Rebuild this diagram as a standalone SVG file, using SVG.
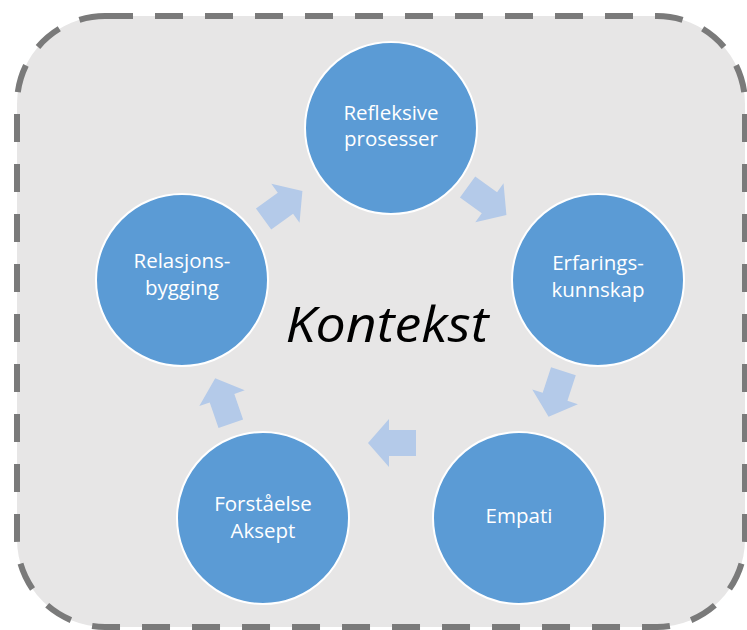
<svg xmlns="http://www.w3.org/2000/svg" width="747" height="630" viewBox="0 0 747 630">
  <defs>
    <style>
      .frame { fill: #E7E6E6; stroke: #7A7A7A; stroke-width: 6; stroke-dasharray: 28 22; }
      .node { fill: #5B9BD5; stroke: #FFFFFF; stroke-width: 2; }
      .label { fill: #FFFFFF; font-family: "Open Sans", "Liberation Sans", sans-serif; font-size: 20.5px; text-anchor: middle; }
      .title { fill: #000000; font-family: "Open Sans", "Liberation Sans", sans-serif; font-style: italic; font-size: 50px; text-anchor: middle; }
      .flow { fill: #B4CAE9; }
    </style>
    <!-- block arrow pointing along +x, centred on the origin -->
    <polygon id="blockArrow" points="-24,-13 3,-13 3,-24 24,0 3,24 3,13 -24,13"/>
  </defs>

  <!-- dashed context frame -->
  <rect class="frame" x="17" y="16" width="728" height="611" rx="88" ry="88"/>

  <text class="title" x="387" y="342" textLength="203" lengthAdjust="spacingAndGlyphs">Kontekst</text>

  <!-- connectors between the cycle steps -->
  <g id="connectors" class="flow">
    <use href="#blockArrow" transform="translate(283,205) rotate(-36)"/>
    <use href="#blockArrow" transform="translate(487,201) rotate(36)"/>
    <use href="#blockArrow" transform="translate(556,394) rotate(108)"/>
    <use href="#blockArrow" transform="translate(392,443) rotate(180)"/>
    <use href="#blockArrow" transform="translate(223,401) rotate(251)"/>
  </g>

  <g id="refleksive">
    <circle class="node" cx="391" cy="128" r="86"/>
    <text class="label" x="391" y="120">Refleksive</text>
    <text class="label" x="391" y="146">prosesser</text>
  </g>

  <g id="erfaring">
    <circle class="node" cx="598" cy="280" r="86"/>
    <text class="label" x="598" y="270">Erfarings-</text>
    <text class="label" x="598" y="297">kunnskap</text>
  </g>

  <g id="empati">
    <circle class="node" cx="519" cy="518" r="86"/>
    <text class="label" x="519" y="523">Empati</text>
  </g>

  <g id="forstaelse">
    <circle class="node" cx="263" cy="518" r="86"/>
    <text class="label" x="263" y="511">Forståelse</text>
    <text class="label" x="263" y="538">Aksept</text>
  </g>

  <g id="relasjon">
    <circle class="node" cx="182" cy="280" r="86"/>
    <text class="label" x="182" y="268">Relasjons-</text>
    <text class="label" x="182" y="295">bygging</text>
  </g>
</svg>
